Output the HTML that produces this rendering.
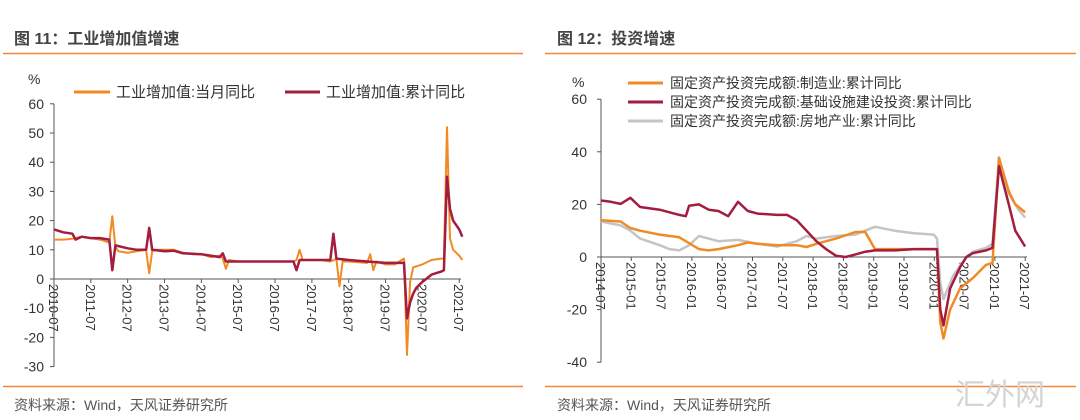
<!DOCTYPE html>
<html><head><meta charset="utf-8"><style>
body{margin:0;width:1080px;height:420px;background:#fff;overflow:hidden}
svg{display:block}
text{font-family:"Liberation Sans","Noto Sans CJK SC",sans-serif;fill:#333}
</style></head><body>
<svg id="s" width="1080" height="420" xmlns="http://www.w3.org/2000/svg">
<text x="14" y="44" font-size="16" font-weight="bold" style="fill:#444">图 11：工业增加值增速</text>
<text x="557" y="44" font-size="16" font-weight="bold" style="fill:#444">图 12：投资增速</text>
<line x1="3" y1="53.5" x2="523" y2="53.5" stroke="#f0883a" stroke-width="1.5"/>
<line x1="545" y1="53.5" x2="1076" y2="53.5" stroke="#f0883a" stroke-width="1.5"/>
<line x1="3" y1="386.5" x2="523" y2="386.5" stroke="#f0883a" stroke-width="1.5"/>
<line x1="545" y1="386.5" x2="1076" y2="386.5" stroke="#f0883a" stroke-width="1.5"/>
<text x="14" y="410" font-size="14" style="fill:#555">资料来源：Wind，天风证券研究所</text>
<text x="557" y="410" font-size="14" style="fill:#555">资料来源：Wind，天风证券研究所</text>
<text x="955" y="405" font-size="30" style="fill:#d4d4d4">汇外网</text>
<text x="28" y="84" font-size="14">%</text>
<text x="572" y="87" font-size="14">%</text>
<g id="g"></g>
</svg>
<script>
var g=document.getElementById('g'),h='';
function L(x1,y1,x2,y2,c,w){h+='<line x1="'+x1+'" y1="'+y1+'" x2="'+x2+'" y2="'+y2+'" stroke="'+c+'" stroke-width="'+(w||1)+'"/>';}
function T(x,y,s,fs,a,tr){h+='<text x="'+x+'" y="'+y+'" font-size="'+fs+'" text-anchor="'+(a||'start')+'"'+(tr?' transform="'+tr+'"':'')+'>'+s+'</text>';}
function P(pts,fx,fy,c,w){h+='<polyline fill="none" stroke="'+c+'" stroke-width="'+w+'" stroke-linejoin="round" points="'+pts.map(function(p){return fx(p[0]).toFixed(1)+','+fy(p[1]).toFixed(1)}).join(' ')+'"/>';}
var lx=function(m){return 54+m*3.07},ly=function(v){return 279-v*2.92};
L(54,ly(60),54,ly(-30),'#555');
for(var v=-30;v<=60;v+=10){L(50,ly(v),54,ly(v),'#555');T(44,ly(v)+5,v,14,'end');}
L(54,279,461,279,'#555');
for(var i=0;i<=11;i++){var x=lx(i*12);L(x,279,x,283,'#555');T(0,0,(2010+i)+'-07',13,'start','translate('+(x-5)+',284) rotate(90)');}
var o1=[[0,13.5],[3,13.5],[6,13.8],[9,14.5],[12,14],[15,13.5],[18,12.5],[19,21.5],[20,11],[21,9.5],[24,9],[27,9.5],[30,10],[31,2],[32,9.5],[33,10],[36,10],[39,10],[42,9],[45,8.5],[48,8.5],[51,7.5],[54,8],[55,7],[56,3.5],[57,6.5],[60,6],[66,6],[72,6],[78,6],[79,6.5],[80,10],[81,6.5],[84,6.5],[87,6.5],[90,6],[92,6.8],[93,-2.5],[94,6],[96,6],[102,5.5],[103,8.5],[104,3],[105,6],[108,5],[111,5],[114,7],[115,-26],[116,-1],[117,4],[120,5],[123,6.5],[126,7],[127,7],[128,52],[129,14],[130,10],[131,9],[132,8],[133,6.5]];
var r1=[[0,17],[3,16],[6,15.5],[7,13.5],[9,14.5],[12,14],[15,14],[18,13.5],[19,3],[20,11.5],[24,10.5],[27,10],[30,10],[31,17.5],[32,10],[36,9.5],[39,9.7],[42,8.8],[48,8.5],[54,7.5],[55,8.8],[56,6],[60,6],[66,6],[72,6],[78,6],[79,3],[80,6.5],[84,6.5],[90,6.5],[91,15.5],[92,7],[96,6.5],[102,6],[108,5.5],[114,5.5],[115,-13.5],[116,-8],[117,-5],[118,-3],[120,-1],[123,1.5],[126,2.5],[127,3],[128,35],[129,24],[130,20],[132,17],[133,14.5]];
P(o1,lx,ly,'#f28a24',2);P(r1,lx,ly,'#a31d3f',2.5);
L(74,92,110,92,'#f28a24',3);T(116,97,'工业增加值:当月同比',15);
L(285,92,320,92,'#a31d3f',3);T(326,97,'工业增加值:累计同比',15);
var rx=function(m){return 601+m*5.05},ry=function(v){return 257-v*2.63};
var rxd=function(m){return 601+m*0.646*5.05};
L(601,ry(60),601,ry(-40),'#555');
for(var v=-40;v<=60;v+=20){L(597,ry(v),601,ry(v),'#555');T(587,ry(v)+5,v,14,'end');}
L(601,257,1027,257,'#555');
for(var i=0;i<=14;i++){var x=rx(i*6);var yr=2014+Math.floor((i+1)/2);var mo=(i%2==0)?'07':'01';L(x,257,x,261,'#555');T(0,0,yr+'-'+mo,13,'start','translate('+(x-5)+',262) rotate(90)');}
var mf=[[0,14],[6,13.5],[9,11],[12,10],[18,8.5],[24,7.5],[30,3],[33,2.5],[36,3],[42,4.5],[45,5.5],[48,5],[54,4.5],[60,4.5],[63,3.8],[66,5],[72,7],[78,9.5],[81,9.5],[84,3],[90,3],[96,3],[103,3],[104,-25],[105,-31],[107,-20],[110,-12],[114,-8],[118,-3],[120,-2.3],[122,37.5],[125,25],[127,20],[128,19],[130,17]];
var inf=[[0,21.5],[3,21],[6,20.2],[9,22.5],[12,19],[18,18],[21,17],[24,16],[26,15.5],[27,19.5],[30,20],[33,18],[36,17.5],[39,15.5],[42,21],[45,17.5],[48,16.5],[54,16],[57,16],[60,14],[63,10],[66,6],[69,3],[72,0.5],[75,0],[78,1],[81,2],[84,2.5],[90,2.5],[96,3],[103,3],[104,-20],[105,-26],[107,-12],[110,-4],[112,0],[114,1.5],[118,2.5],[120,3.5],[122,34.5],[125,20],[127,10],[130,4]];
var re=[[0,13.5],[6,12],[9,10],[12,7],[18,4.5],[21,3],[24,2.5],[27,4.5],[30,8],[33,7],[36,6],[42,6.5],[48,5],[54,4],[60,6],[63,8],[66,7],[72,8],[78,8.5],[81,10],[84,11.5],[90,10],[96,9],[102,8.5],[103,7],[104,-10],[105,-16],[108,-7],[112,0],[114,2],[118,3.5],[120,5],[122,38],[125,24],[128,18],[130,15]];
P(re,rxd,ry,'#c4c4c4',2.5);P(mf,rxd,ry,'#f28a24',2.5);P(inf,rxd,ry,'#a31d3f',2.5);
L(628,83,663,83,'#f28a24',3);T(670,88,'固定资产投资完成额:制造业:累计同比',14);
L(628,102,663,102,'#a31d3f',3);T(670,107,'固定资产投资完成额:基础设施建设投资:累计同比',14);
L(628,121,663,121,'#c4c4c4',3);T(670,126,'固定资产投资完成额:房地产业:累计同比',14);
g.innerHTML=h;
</script>
</body></html>
